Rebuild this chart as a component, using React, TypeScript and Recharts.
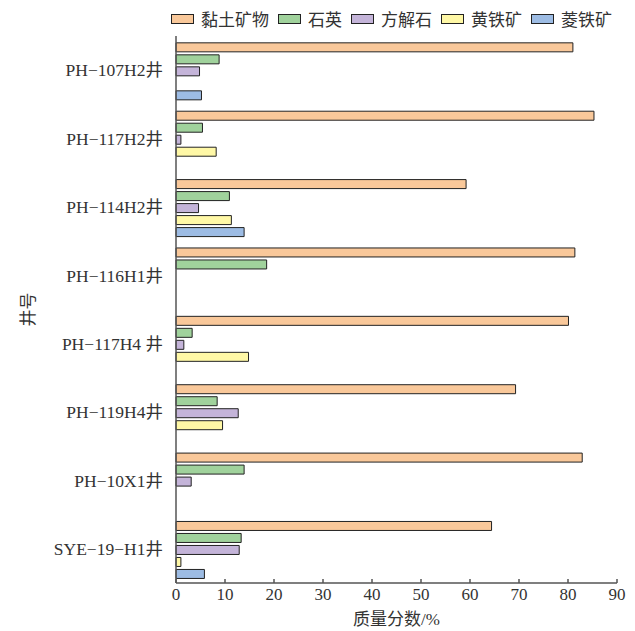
import { Bar, BarChart, Legend, XAxis, YAxis } from "recharts";

const wells = [
  "PH−107H2井",
  "PH−117H2井",
  "PH−114H2井",
  "PH−116H1井",
  "PH−117H4 井",
  "PH−119H4井",
  "PH−10X1井",
  "SYE−19−H1井",
];

// mass fraction, %; null = not detected
const clay = [81.0, 85.3, 59.2, 81.4, 80.1, 69.3, 82.9, 64.4];
const quartz = [8.8, 5.4, 10.9, 18.5, 3.3, 8.4, 13.9, 13.3];
const calcite = [4.8, 1.0, 4.6, null, 1.6, 12.7, 3.1, 12.9];
const pyrite = [null, 8.2, 11.3, null, 14.8, 9.5, null, 1.0];
const siderite = [5.2, null, 13.9, null, null, null, null, 5.8];

const xTicks = [0, 10, 20, 30, 40, 50, 60, 70, 80, 90];
const bandEdges = [0, 1, 2, 3, 4, 5, 6, 7, 8];

const series = [
  { key: "clay", name: "黏土矿物", fill: "#f9c89a" },
  { key: "quartz", name: "石英", fill: "#a0d29c" },
  { key: "calcite", name: "方解石", fill: "#c4b4d9" },
  { key: "pyrite", name: "黄铁矿", fill: "#fff8a6" },
  { key: "siderite", name: "菱铁矿", fill: "#9dbce4" },
];

const data = wells.map((well, i) => ({
  well,
  clay: clay[i],
  quartz: quartz[i],
  calcite: calcite[i],
  pyrite: pyrite[i],
  siderite: siderite[i],
}));

const FONT = "'Liberation Serif', 'Noto Sans CJK SC', serif";
const TEXT = "#333";
const AXIS = "#555";

// legend keeps the series order
function LegendRow() {
  return (
    <div style={{ display: "flex", alignItems: "center", fontFamily: FONT, fontSize: 17, color: TEXT }}>
      {series.map((s) => (
        <div key={s.key} style={{ display: "flex", alignItems: "center", marginRight: 9 }}>
          <svg width={23} height={10} style={{ marginRight: 7 }}>
            <rect x={0.5} y={0.5} width={22} height={9} fill={s.fill} stroke="#222" />
          </svg>
          <span>{s.name}</span>
        </div>
      ))}
    </div>
  );
}

function WellAxisLabel(props: any) {
  const { x, y, height } = props.viewBox;
  const cx = x + 28;
  const cy = y + height / 2;
  return (
    <text
      x={cx}
      y={cy}
      transform={`rotate(-90 ${cx} ${cy})`}
      textAnchor="middle"
      dominantBaseline="central"
      fontFamily={FONT}
      fontSize={17}
      fill={TEXT}
    >
      井号
    </text>
  );
}

export default function App() {
  return (
    <div style={{ position: "absolute", left: 0, top: 0, background: "#fff" }}>
      <BarChart
        width={635}
        height={631}
        data={data}
        layout="vertical"
        margin={{ top: 36, right: 18, bottom: 0, left: 0 }}
        barCategoryGap="10%"
        barGap={3}
      >
        <XAxis
          type="number"
          domain={[0, 90]}
          ticks={xTicks}
          height={48}
          stroke={AXIS}
          strokeWidth={1.5}
          tickSize={-4}
          tickMargin={9}
          tick={{ fill: TEXT, fontSize: 17, fontFamily: FONT }}
          label={{ value: "质量分数/%", position: "insideBottom", offset: 6, fill: TEXT, fontSize: 17, fontFamily: FONT }}
        />
        <YAxis
          yAxisId="edge"
          type="number"
          domain={[0, 8]}
          ticks={bandEdges}
          width={0}
          axisLine={false}
          tick={false}
          tickSize={-4}
          tickLine={{ stroke: AXIS, strokeWidth: 1.5 }}
        />
        <YAxis
          type="category"
          dataKey="well"
          width={176}
          stroke={AXIS}
          strokeWidth={1.5}
          tickLine={false}
          tickMargin={7}
          interval={0}
          tick={{ fill: TEXT, fontSize: 17.5, fontFamily: FONT }}
          label={<WellAxisLabel />}
        />
        <Legend
          layout="horizontal"
          verticalAlign="middle"
          align="center"
          wrapperStyle={{ top: 6, left: 171, width: 464 }}
          content={<LegendRow />}
        />
        {series.map((s) => (
          <Bar
            key={s.key}
            dataKey={s.key}
            name={s.name}
            fill={s.fill}
            stroke="#222"
            strokeWidth={1}
            isAnimationActive={false}
          />
        ))}
      </BarChart>
    </div>
  );
}
